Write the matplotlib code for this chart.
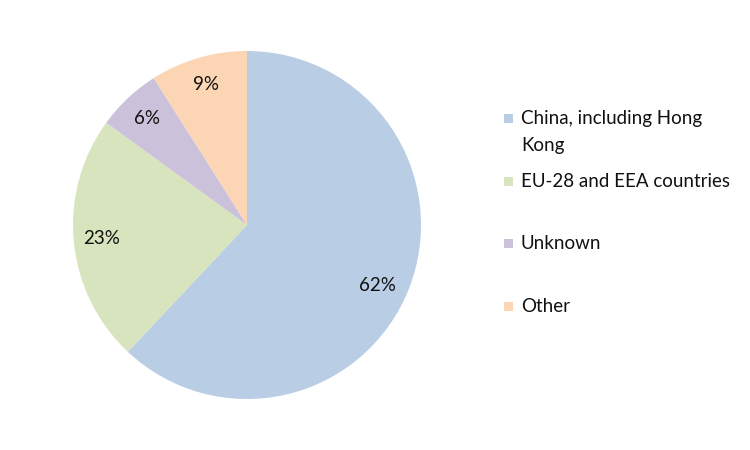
import matplotlib
matplotlib.use("Agg")
import matplotlib.pyplot as plt
from matplotlib.patches import Rectangle

plt.rcParams['font.family'] = ['Lato', 'DejaVu Sans']

categories = ["China, including Hong\nKong", "EU-28 and EEA countries", "Unknown", "Other"]
values = [62, 23, 6, 9]
colors = ["#B9CDE5", "#D7E4BD", "#CCC1DA", "#FCD5B5"]

fig = plt.figure(figsize=(7.5, 4.5), dpi=100)
W, H = 750, 450
cx, cy, r = 247, 225, 174
ax = fig.add_axes([(cx - r) / W, (H - cy - r) / H, 2 * r / W, 2 * r / H])
wedges, texts, autotexts = ax.pie(values, colors=colors, startangle=90, counterclock=False,
                                  autopct=lambda p: f"{p:.0f}%", pctdistance=0.84,
                                  wedgeprops=dict(edgecolor="none", linewidth=0),
                                  textprops=dict(fontsize=13.5, color="#111111"))
# nudge the large-slice label like the reference (placed a bit lower)
autotexts[0].set_position((autotexts[0].get_position()[0] - 0.03,
                           autotexts[0].get_position()[1] - 0.04))
ax.set_aspect("equal")
ax.set_xlim(-1, 1)
ax.set_ylim(-1, 1)
ax.axis("off")

# legend drawn manually
ys = [118, 181, 243, 306]
for lab, col, y in zip(categories, colors, ys):
    fig.patches.append(Rectangle((504 / W, 1 - (y + 5) / H), 9 / W, 9 / H,
                                 transform=fig.transFigure, facecolor=col, edgecolor="none"))
    fig.text(521 / W, 1 - (y - 8) / H, lab, fontsize=13.5, va="top", ha="left",
             linespacing=1.75, color="#111111")

fig.savefig("out.png", dpi=100)
